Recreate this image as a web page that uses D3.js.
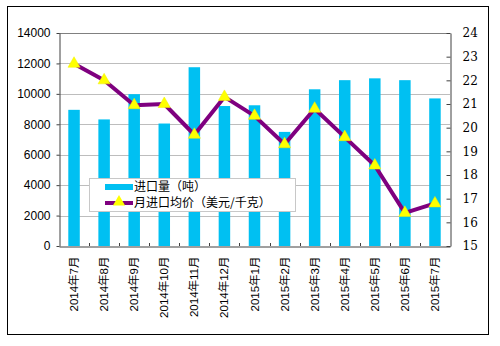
<!DOCTYPE html>
<html><head><meta charset="utf-8">
<script src="https://cdn.jsdelivr.net/npm/d3@7/dist/d3.min.js"></script>
<style>
body{margin:0;background:#fff;}
text{font-family:Arial,"Liberation Sans","Noto Sans CJK SC",sans-serif;}
</style></head>
<body><svg id="c" width="500" height="346"></svg>
<script>
const categories = ["2014年7月","2014年8月","2014年9月","2014年10月","2014年11月","2014年12月","2015年1月","2015年2月","2015年3月","2015年4月","2015年5月","2015年6月","2015年7月"];
const volume = [8950, 8320, 9980, 8050, 11750, 9200, 9250, 7500, 10300, 10900, 11020, 10900, 9700];
const price = [22.7, 22.0, 20.95, 21.0, 19.7, 21.3, 20.5, 19.3, 20.8, 19.6, 18.4, 16.4, 16.8];
const leftTicks = [0,2000,4000,6000,8000,10000,12000,14000];
const rightTicks = [15,16,17,18,19,20,21,22,23,24];
const legendLabels = ["进口量（吨）","月进口均价（美元/千克）"];

const svg = d3.select("#c");
const L=59, R=450, T=33, B=246;
svg.append("rect").attr("x",7.5).attr("y",6.5).attr("width",481).attr("height",328)
  .attr("fill","#fff").attr("stroke","#000").attr("stroke-width",1);

const x = d3.scaleBand().domain(categories).range([L,R]).paddingInner(0).paddingOuter(0);
const yL = d3.scaleLinear().domain([0,14000]).range([B,T]);
const yR = d3.scaleLinear().domain([15,24]).range([B,T]);

// gridlines
svg.append("g").selectAll("line").data(leftTicks.filter(d=>d>0 && d<14000)).join("line")
  .attr("x1",L).attr("x2",R).attr("y1",d=>Math.round(yL(d))+0.5).attr("y2",d=>Math.round(yL(d))+0.5)
  .attr("stroke","#bdbdbd");
svg.append("line").attr("x1",L).attr("x2",R).attr("y1",T+0.5).attr("y2",T+0.5).attr("stroke","#808080");

// bars
const bw = 11.5;
svg.append("g").selectAll("rect").data(volume).join("rect")
  .attr("x",(d,i)=>x(categories[i])+x.bandwidth()/2-bw/2)
  .attr("width",bw)
  .attr("y",d=>yL(d)).attr("height",d=>B-yL(d))
  .attr("fill","#00c0f2");

// axes
const gl = svg.append("g").attr("transform",`translate(${L+0.5},0)`)
  .call(d3.axisLeft(yL).tickValues(leftTicks).tickFormat(d3.format("d")).tickSize(3).tickSizeOuter(0).tickPadding(6));
const gr = svg.append("g").attr("transform",`translate(${R+0.5},0)`)
  .call(d3.axisRight(yR).tickValues(rightTicks).tickSize(-4).tickSizeOuter(0).tickPadding(12));
const gb = svg.append("g").attr("transform",`translate(0,${B+0.5})`)
  .call(d3.axisBottom(x).tickSize(0).tickSizeOuter(0));
[gl,gr,gb].forEach(g=>{
  g.select(".domain").attr("stroke","#404040");
  g.selectAll(".tick line").attr("stroke","#404040");
  g.selectAll("text").attr("fill","#000").style("font-size","12px");
});
gr.selectAll("text").style("font-family","'DejaVu Serif','Liberation Serif',serif").style("font-size","12px");
// category boundary ticks (pointing up)
svg.append("g").selectAll("line").data(categories.slice(1)).join("line")
  .attr("x1",d=>Math.round(x(d))+0.5).attr("x2",d=>Math.round(x(d))+0.5)
  .attr("y1",B).attr("y2",B-3).attr("stroke","#404040");
gb.selectAll(".tick text")
  .attr("transform","rotate(-90)")
  .attr("x",-10).attr("y",0).attr("dy","0.35em")
  .style("text-anchor","end").style("font-size","11.5px");

// line
const line = d3.line().x((d,i)=>x(categories[i])+x.bandwidth()/2).y(d=>yR(d));
svg.append("path").datum(price).attr("d",line).attr("fill","none")
  .attr("stroke","#7f007f").attr("stroke-width",4).attr("stroke-linejoin","round");
const tri = d3.symbol().type(d3.symbolTriangle).size(64);
svg.append("g").selectAll("path").data(price).join("path")
  .attr("d",tri)
  .attr("transform",(d,i)=>`translate(${x(categories[i])+x.bandwidth()/2},${yR(d)})`)
  .attr("fill","#ffff00").attr("stroke","#f0f000").attr("stroke-width",0.5);

// legend
const lg = svg.append("g");
lg.append("rect").attr("x",89.5).attr("y",178.5).attr("width",206).attr("height",33)
  .attr("fill","#fff").attr("stroke","#c8c8c8");
lg.append("rect").attr("x",105).attr("y",184).attr("width",28).attr("height",6).attr("fill","#00c0f2");
lg.append("line").attr("x1",105).attr("x2",133).attr("y1",203).attr("y2",203)
  .attr("stroke","#7f007f").attr("stroke-width",4);
lg.append("path").attr("d",tri).attr("transform","translate(119,202)").attr("fill","#ffff00");
lg.selectAll("text").data(legendLabels).join("text")
  .attr("x",134).attr("y",(d,i)=>187+i*16).attr("dy","0.35em")
  .style("font-size","12px").style("font-family","'Noto Sans CJK SC',sans-serif").text(d=>d);
</script></body></html>
